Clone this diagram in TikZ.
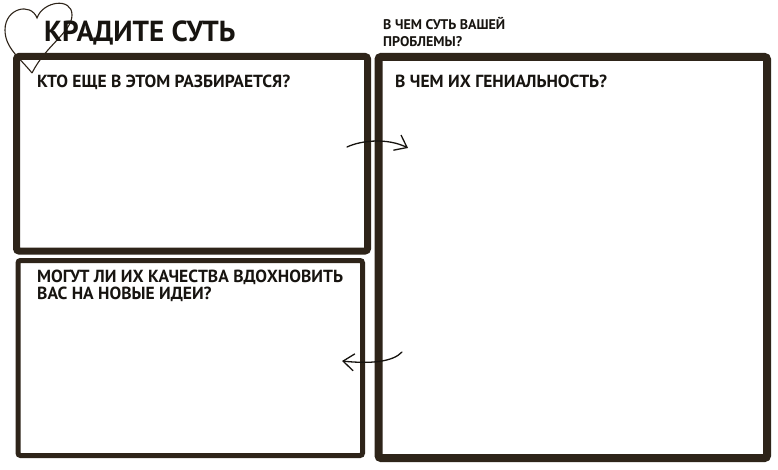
\documentclass[tikz,border=0pt]{standalone}
\usepackage{fontspec}
\setmainfont{PT Sans}
\usepackage{xcolor}
\usepackage{tikz}
\usetikzlibrary{arrows.meta,positioning}
\definecolor{ink}{HTML}{2E2419}
\definecolor{letter}{HTML}{171410}
\tikzset{
  >={Straight Barb[length=11pt,width=17pt]},
  panel/.style={draw=ink,fill=none,rounded corners=2.5pt,inner sep=0pt,outer sep=0pt},
  headline/.style={font=\bfseries\fontsize{29}{32}\selectfont,text=letter,inner sep=0pt,anchor=base west},
  prompt/.style={font=\bfseries\fontsize{17.5}{17}\selectfont,text=letter,inner sep=0pt,anchor=base west,align=left},
  note/.style={font=\bfseries\fontsize{14}{17}\selectfont,text=letter,inner sep=0pt,anchor=base west,align=left},
  link/.style={->,line width=1.3pt,color=letter,line cap=round},
  heartline/.style={draw=ink,line width=1.1pt},
}

\begin{document}
\begin{tikzpicture}[x=1pt,y=-1pt]
  \useasboundingbox[fill=white] (0,0) rectangle (778,470);
  \node[panel,line width=7pt,minimum width=351pt,minimum height=194.5pt] (who) at (192,153.75) {};
  \node[panel,line width=5pt,minimum width=344.5pt,minimum height=195pt] (ideas) at (190.25,358) {};
  \node[panel,line width=8pt,minimum width=388.5pt,minimum height=401pt] (genius) at (572.75,257.5) {};
  \draw[heartline] (32,73) .. controls (20,58) and (5,48) .. (5,30)
    .. controls (5,8) and (31,2) .. (37,18)
    .. controls (43,1) and (72,-3) .. (72,15)
    .. controls (72,32) and (46,45) .. (32,73);
  \node[headline] (title) at (44,42) {КРАДИТЕ СУТЬ};
  \node[note] (problem) at (383,47) {В ЧЕМ СУТЬ ВАШЕЙ\\ПРОБЛЕМЫ?};
  \node[prompt] (whoq) at (37,88) {КТО ЕЩЕ В ЭТОМ РАЗБИРАЕТСЯ?};
  \node[prompt] (geniusq) at (395,88) {В ЧЕМ ИХ ГЕНИАЛЬНОСТЬ?};
  \node[prompt] (ideasq) at (37,299) {МОГУТ ЛИ ИХ КАЧЕСТВА ВДОХНОВИТЬ\\ВАС НА НОВЫЕ ИДЕИ?};
  \coordinate (out1) at (347,147);
  \coordinate (in1) at (408,148);
  \coordinate (out2) at (402,352);
  \coordinate (in2) at (342,361);
  \draw[link] (out1) .. controls (362,140) and (388,138) .. (in1);
  \draw[link] (out2) .. controls (393,362) and (370,364) .. (in2);
\end{tikzpicture}
\end{document}
